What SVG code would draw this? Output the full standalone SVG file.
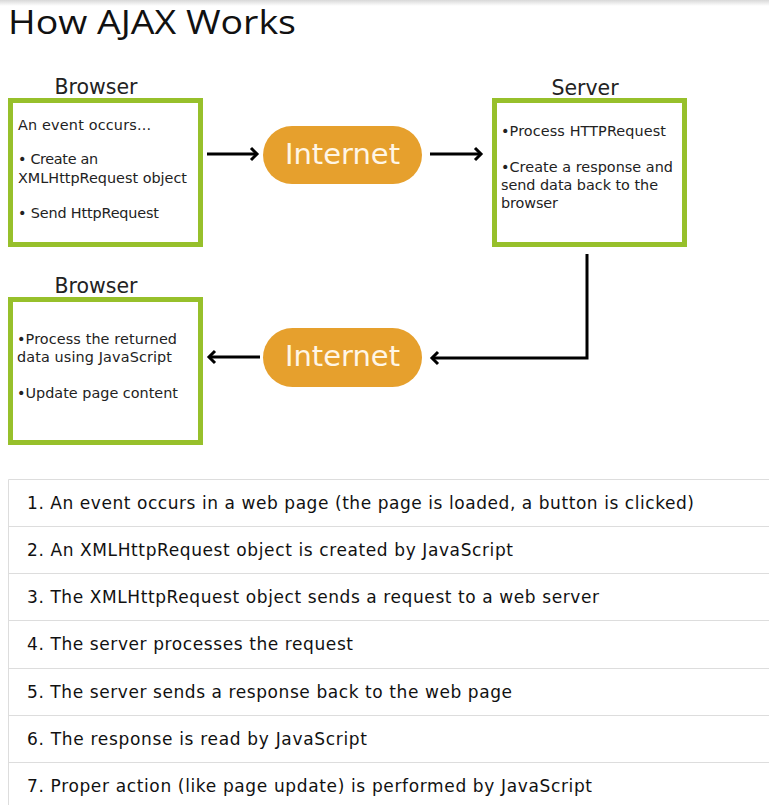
<svg xmlns="http://www.w3.org/2000/svg" width="769" height="805" viewBox="0 0 769 805">
<style>
.title{font-family:"Open Sans","Noto Sans",sans-serif;font-size:32.5px;fill:#111}
.lbl{font-family:"DejaVu Sans",Verdana,sans-serif;font-size:20.5px;fill:#222;text-anchor:middle}
.box{fill:#fff;stroke:#97C02B;stroke-width:5}
.bt{font-family:"DejaVu Sans",Verdana,sans-serif;font-size:14.4px;fill:#222}
.pill{fill:#E6A02D}
.pt{font-family:"DejaVu Sans",Verdana,sans-serif;font-size:29px;fill:#FFF6E6;text-anchor:middle}
.con{fill:none;stroke:#000;stroke-width:3}
.head{fill:none;stroke:#000;stroke-width:3}
.row{fill:none;stroke:#DDDDDD;stroke-width:1}
.rt{font-family:"DejaVu Sans",Verdana,sans-serif;font-size:17px;fill:#111}
</style>
<defs>
<linearGradient id="sh" x1="0" y1="0" x2="0" y2="1">
<stop offset="0" stop-color="#d8d8d8"/>
<stop offset="1" stop-color="#ffffff"/>
</linearGradient>
</defs>
<rect x="0" y="0" width="769" height="805" fill="#fff"/>
<rect x="0" y="0" width="769" height="6" fill="url(#sh)"/>
<text class="title" x="8" y="34" textLength="288" lengthAdjust="spacingAndGlyphs">How AJAX Works</text>

<g id="browser1">
<text class="lbl" x="96" y="94">Browser</text>
<rect class="box" x="10.5" y="100.5" width="190" height="144"/>
<text class="bt" x="18" y="130" textLength="133">An event occurs...</text>
<text class="bt" x="18" y="164" textLength="80">• Create an</text>
<text class="bt" x="18" y="183" textLength="169">XMLHttpRequest object</text>
<text class="bt" x="18" y="218" textLength="141">• Send HttpRequest</text>
</g>

<g id="internet1">
<rect class="pill" x="263" y="126" width="159" height="58" rx="29"/>
<text class="pt" x="342.5" y="164">Internet</text>
</g>

<g id="server">
<text class="lbl" x="585" y="95">Server</text>
<rect class="box" x="494.5" y="100.5" width="190" height="144"/>
<text class="bt" x="501" y="136" textLength="165">•Process HTTPRequest</text>
<text class="bt" x="501" y="172" textLength="172">•Create a response and</text>
<text class="bt" x="501" y="190" textLength="157">send data back to the</text>
<text class="bt" x="501" y="208" textLength="57">browser</text>
</g>

<g id="internet2">
<rect class="pill" x="263" y="328" width="159" height="59" rx="29.5"/>
<text class="pt" x="342.5" y="366">Internet</text>
</g>

<g id="browser2">
<text class="lbl" x="96" y="293">Browser</text>
<rect class="box" x="10.5" y="299.5" width="190" height="143"/>
<text class="bt" x="17" y="344" textLength="160">•Process the returned</text>
<text class="bt" x="17" y="362" textLength="155">data using JavaScript</text>
<text class="bt" x="17" y="398" textLength="161">•Update page content</text>
</g>

<g id="connectors">
<line class="con" x1="207" y1="154" x2="257" y2="154"/>
<polyline class="head" points="251,148 257,154 251,160"/>
<line class="con" x1="430" y1="154" x2="481" y2="154"/>
<polyline class="head" points="475,148 481,154 475,160"/>
<polyline class="con" points="587,254 587,358 432,358"/>
<polyline class="head" points="438,352 432,358 438,364"/>
<line class="con" x1="260" y1="357" x2="209" y2="357"/>
<polyline class="head" points="215,351 209,357 215,363"/>
</g>

<g id="steps">
<path class="row" d="M769,479.5 H8.5 V805"/>
<line class="row" x1="8" y1="526.5" x2="769" y2="526.5"/>
<line class="row" x1="8" y1="573.5" x2="769" y2="573.5"/>
<line class="row" x1="8" y1="620.5" x2="769" y2="620.5"/>
<line class="row" x1="8" y1="668.5" x2="769" y2="668.5"/>
<line class="row" x1="8" y1="715.5" x2="769" y2="715.5"/>
<line class="row" x1="8" y1="762.5" x2="769" y2="762.5"/>
<text class="rt" x="27" y="509" textLength="667">1. An event occurs in a web page (the page is loaded, a button is clicked)</text>
<text class="rt" x="27" y="556" textLength="486">2. An XMLHttpRequest object is created by JavaScript</text>
<text class="rt" x="27" y="603" textLength="572">3. The XMLHttpRequest object sends a request to a web server</text>
<text class="rt" x="27" y="650" textLength="326">4. The server processes the request</text>
<text class="rt" x="27" y="698" textLength="485">5. The server sends a response back to the web page</text>
<text class="rt" x="27" y="745" textLength="340">6. The response is read by JavaScript</text>
<text class="rt" x="27" y="792" textLength="565">7. Proper action (like page update) is performed by JavaScript</text>
</g>
</svg>
